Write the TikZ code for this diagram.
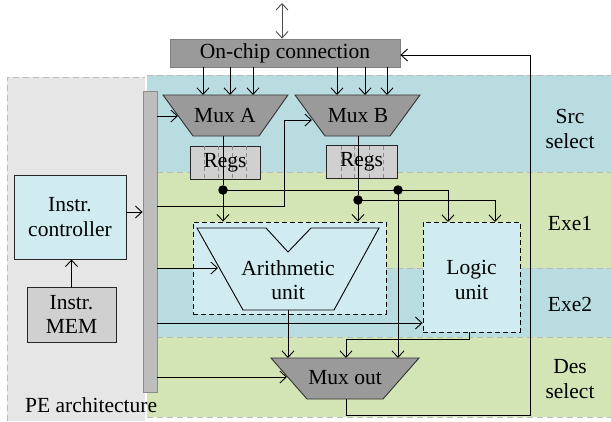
\documentclass[tikz,border=0pt]{standalone}
\usepackage{fontspec}
\setmainfont{Liberation Serif}
\usetikzlibrary{arrows.meta}
\definecolor{bandblue}{HTML}{B8DCE0}
\definecolor{bandgreen}{HTML}{D3E5B4}
\definecolor{unitfill}{HTML}{D0ECF0}
\definecolor{pegray}{HTML}{E6E6E6}
\definecolor{muxgray}{HTML}{9A9A9A}
\definecolor{regfill}{HTML}{D0D0D0}
\definecolor{barfill}{HTML}{BDBDBD}
\definecolor{bandline}{HTML}{BBBBBB}

\begin{document}
\begin{tikzpicture}[x=1pt,y=-1pt,
  font=\fontsize{21.5}{24.5}\selectfont,
  wire/.style={line width=0.9pt, draw=black},
  arr/.style={wire, -{Straight Barb[length=6.5pt,width=12pt]}},
  biarr/.style={wire, draw=black!70, {Straight Barb[length=6.5pt,width=12pt]}-{Straight Barb[length=6.5pt,width=12pt]}},
  bandedge/.style={draw=bandline, line width=1pt, dash pattern=on 6pt off 4pt},
  mux/.style={fill=muxgray, draw=black!80, line width=0.9pt},
  regbox/.style={fill=regfill, draw=black!85, line width=0.9pt, minimum width=#1, minimum height=33pt, inner sep=0pt},
  regsplit/.style={draw=black!45, line width=0.9pt, dash pattern=on 4pt off 3pt},
  unitbox/.style={fill=unitfill, draw=black, line width=0.9pt, dash pattern=on 5pt off 3pt, inner sep=0pt},
  plainbox/.style={draw=black!85, line width=0.9pt, inner sep=0pt, align=center},
  dot/.style={circle, fill=black, inner sep=0pt, minimum size=9.5pt},
  lbl/.style={align=center, inner sep=0pt}]

\useasboundingbox (0,0) rectangle (611,421);

% pipeline stage bands
\fill[bandblue]  (147,75)  rectangle (611,172);
\fill[bandgreen] (147,172) rectangle (611,268);
\fill[bandblue]  (147,268) rectangle (611,337);
\fill[bandgreen] (147,337) rectangle (611,417);
\foreach \yy in {75,172,268,337,417}
  \draw[bandedge] (147,\yy) -- (611,\yy);

% PE architecture region
\fill[pegray] (7,77) rectangle (145,421);
\draw[bandedge] (7,421) -- (7,77) -- (145,77);
\node[lbl, anchor=west] (pelabel) at (25,405) {PE architecture};

% stage labels
\node[lbl] (srcl)  at (570,129) {Src\\select};
\node[lbl] (exe1l) at (570,224) {Exe1};
\node[lbl] (exe2l) at (570,304) {Exe2};
\node[lbl] (desl)  at (570,379) {Des\\select};

% control bus bar
\node[fill=barfill, draw=black!45, line width=0.8pt, minimum width=14pt, minimum height=301pt, inner sep=0pt] (bar) at (150,241.5) {};

% instruction side
\node[plainbox, fill=unitfill, minimum width=112pt, minimum height=84pt] (ctrl) at (70,217) {Instr.\\controller};
\node[plainbox, fill=regfill, minimum width=89pt, minimum height=55pt] (mem) at (71.5,314.5) {Instr.\\MEM};
\draw[arr] (mem.north) -- (ctrl.south -| mem.north);
\draw[arr] (ctrl.east |- 0,212) -- (bar.west |- 0,212);

% on-chip connection
\node[fill=muxgray, draw=black!50, line width=0.8pt, minimum width=230pt, minimum height=28pt, inner sep=0pt] (onchip) at (285,53) {On-chip connection};
\coordinate (ext) at (282,3);
\draw[biarr] (ext) -- (ext |- onchip.north);

% multiplexers
\draw[mux] (163,95) -- (288,95) -- (259,136) -- (193,136) -- cycle;
\node[lbl] (muxA) at (225,116) {Mux A};
\draw[mux] (295,95) -- (420,95) -- (390,136) -- (325,136) -- cycle;
\node[lbl] (muxB) at (358,116) {Mux B};
\draw[mux] (271,358) -- (419,358) -- (383,399) -- (307,399) -- cycle;
\node[lbl] (muxO) at (345,378) {Mux out};

\foreach \xx in {203,230,253,337,365,387}
  \draw[arr] (onchip.south -| \xx,0) -- (\xx,95);

% register files
\node[regbox=70pt] (regsA) at (225,162.5) {};
\foreach \xx in {204,218,232,246} \draw[regsplit] (\xx,146) -- (\xx,179);
\node[lbl] at (regsA) {Regs};
\node[regbox=71pt] (regsB) at (361.5,162) {};
\foreach \xx in {341,354,369,383} \draw[regsplit] (\xx,145.5) -- (\xx,178.5);
\node[lbl] at (regsB) {Regs};

% arithmetic unit
\node[unitbox, minimum width=193pt, minimum height=92pt] (arith) at (289.5,268) {};
\draw[wire, fill=unitfill] (197,228) -- (266,228) -- (288,252) -- (311,228) -- (379,228) -- (334,310) -- (243,310) -- cycle;
\node[lbl] (arithtxt) at (288,280) {Arithmetic\\unit};
\coordinate (arithout) at (288,310);

% logic unit
\node[unitbox, minimum width=97pt, minimum height=110pt] (logic) at (471.5,277) {};
\node[lbl] (logictxt) at (471.5,280) {Logic\\unit};

% operand paths
\coordinate (muxAout) at (223,136);
\coordinate (muxBout) at (358,136);
\node[dot] (jA) at (223,190) {};
\node[dot] (jB) at (358,200) {};
\node[dot] (jC) at (398,190) {};
\draw[wire] (muxAout) -- (jA);
\draw[wire] (muxBout) -- (jB);
\draw[arr] (jA.center) -- (jA.center |- arith.north);
\draw[arr] (jB.center) -- (jB.center |- arith.north);
\draw[arr] (jA.center) -- (448,190) -- (448,222);
\draw[arr] (jB.center) -- (495,200) -- (495,222);
\draw[arr] (jC.center) -- (398,358);

% control lines from the bus bar
\draw[arr] (bar.east |- 0,116) -- (178,116);
\draw[arr] (bar.east |- 0,206) -- (284,206) -- (284,120) -- (312,120);
\draw[arr] (bar.east |- 0,268) -- (218,268);
\draw[arr] (bar.east |- 0,323) -- (logic.west |- 0,323);
\draw[arr] (bar.east |- 0,377) -- (287,377);

% results to the output multiplexer
\draw[arr] (arithout) -- (288,358);
\draw[arr] (logic.south -| 469,0) -- (469,339) -- (346,339) -- (346,358);

% write-back loop to the on-chip connection
\draw[arr] (346,399) -- (346,415) -- (530,415) -- (530,55) -- (onchip.east |- 0,55);
\end{tikzpicture}
\end{document}
